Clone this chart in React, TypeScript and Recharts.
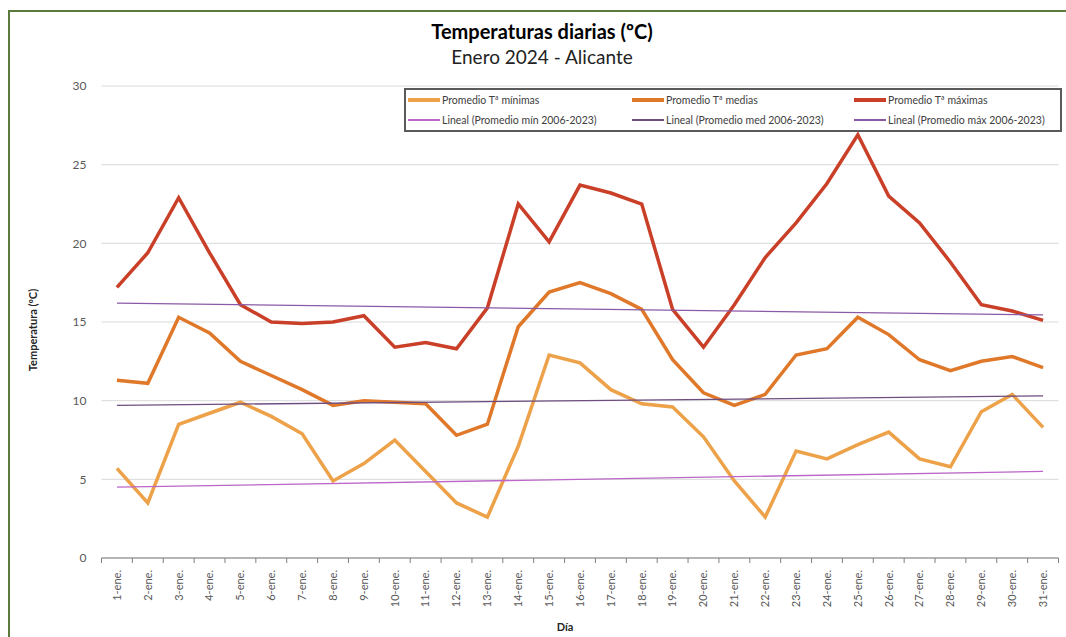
import { CartesianGrid, Label, Line, LineChart, XAxis, YAxis } from "recharts";

const DIAS = [
  "1-ene.", "2-ene.", "3-ene.", "4-ene.", "5-ene.", "6-ene.", "7-ene.", "8-ene.",
  "9-ene.", "10-ene.", "11-ene.", "12-ene.", "13-ene.", "14-ene.", "15-ene.", "16-ene.",
  "17-ene.", "18-ene.", "19-ene.", "20-ene.", "21-ene.", "22-ene.", "23-ene.", "24-ene.",
  "25-ene.", "26-ene.", "27-ene.", "28-ene.", "29-ene.", "30-ene.", "31-ene.",
];

const T_MIN = [5.7, 3.5, 8.5, 9.2, 9.9, 9.0, 7.9, 4.9, 6.0, 7.5, 5.5, 3.5, 2.6, 7.1, 12.9, 12.4, 10.7, 9.8, 9.6, 7.7, 4.9, 2.6, 6.8, 6.3, 7.2, 8.0, 6.3, 5.8, 9.3, 10.4, 8.3];
const T_MED = [11.3, 11.1, 15.3, 14.3, 12.5, 11.6, 10.7, 9.7, 10.0, 9.9, 9.8, 7.8, 8.5, 14.7, 16.9, 17.5, 16.8, 15.8, 12.6, 10.5, 9.7, 10.4, 12.9, 13.3, 15.3, 14.2, 12.6, 11.9, 12.5, 12.8, 12.1];
const T_MAX = [17.2, 19.4, 22.9, 19.4, 16.1, 15.0, 14.9, 15.0, 15.4, 13.4, 13.7, 13.3, 15.9, 22.5, 20.1, 23.7, 23.2, 22.5, 15.8, 13.4, 16.1, 19.1, 21.3, 23.8, 26.9, 23.0, 21.3, 18.8, 16.1, 15.7, 15.1];

// linear trends 2006-2023: [value on first day, value on last day]
const TREND_MIN = [4.5, 5.5];
const TREND_MED = [9.7, 10.3];
const TREND_MAX = [16.2, 15.45];

const Y_TICKS = [0, 5, 10, 15, 20, 25, 30];

const W = 1066;
const H = 637;
const M = { top: 86, right: 7.5, bottom: 0, left: 0 };
const Y_W = 101.5;
const X_H = 79;
const STEP = (W - M.left - M.right - Y_W) / DIAS.length;

const trendAt = (t: number[], i: number) => (i === 0 ? t[0] : i === DIAS.length - 1 ? t[1] : null);

const data = DIAS.map((d, i) => ({
  dia: d,
  min: T_MIN[i],
  med: T_MED[i],
  max: T_MAX[i],
  tMin: trendAt(TREND_MIN, i),
  tMed: trendAt(TREND_MED, i),
  tMax: trendAt(TREND_MAX, i),
}));

const SERIES = [
  { key: "min", name: "Promedio Tª mínimas", color: "#eda24a", width: 3.5 },
  { key: "med", name: "Promedio Tª medias", color: "#e0782a", width: 3.5 },
  { key: "max", name: "Promedio Tª máximas", color: "#c93f28", width: 3.5 },
  { key: "tMin", name: "Lineal (Promedio mín 2006-2023)", color: "#bb66c8", width: 1.3 },
  { key: "tMed", name: "Lineal (Promedio med 2006-2023)", color: "#6e4d80", width: 1.3 },
  { key: "tMax", name: "Lineal (Promedio máx 2006-2023)", color: "#8a5aa6", width: 1.3 },
];

const FONT = "Lato, 'Open Sans', sans-serif";
const AXIS_COLOR = "#7f7f7f";

function DayTick(props: any) {
  const { x, y, payload, index } = props;
  const last = index === DIAS.length - 1;
  return (
    <g>
      <line x1={x - STEP / 2} y1={y} x2={x - STEP / 2} y2={y + 5} stroke={AXIS_COLOR} />
      {last && <line x1={x + STEP / 2} y1={y} x2={x + STEP / 2} y2={y + 5} stroke={AXIS_COLOR} />}
      <text
        x={x}
        y={y + 12}
        dy="0.35em"
        transform={`rotate(-90, ${x}, ${y + 12})`}
        textAnchor="end"
        fontSize={11}
        fill="#595959"
        fontFamily={FONT}
      >
        {payload.value}
      </text>
    </g>
  );
}

function LegendBox() {
  return (
    <div
      style={{
        position: "absolute",
        left: 404,
        top: 88,
        width: 654,
        height: 40,
        border: "2px solid #5a5a5a",
        background: "#fff",
        display: "grid",
        gridTemplateColumns: "224px 222px 1fr",
        gridTemplateRows: "20px 20px",
        fontSize: 10.5,
        color: "#404040",
        fontFamily: FONT,
      }}
    >
      {SERIES.map((s) => (
        <div key={s.key} style={{ display: "flex", alignItems: "center", whiteSpace: "nowrap", paddingLeft: 2 }}>
          <span style={{ display: "inline-block", width: 32, height: s.width, background: s.color, marginRight: 2 }} />
          {s.name}
        </div>
      ))}
    </div>
  );
}

export default function App() {
  return (
    <div style={{ position: "fixed", left: 0, top: 0, width: W, height: H, background: "#fff", overflow: "hidden", fontFamily: FONT }}>
      <div style={{ position: "absolute", left: 8, top: 10, width: 1100, height: 700, border: "2px solid #5c7a3c" }} />
      <div style={{ position: "absolute", left: 0, top: 18, width: 1084, textAlign: "center", color: "#000" }}>
        <div style={{ fontSize: 20, fontWeight: 700, lineHeight: "26px" }}>Temperaturas diarias (ºC)</div>
        <div style={{ fontSize: 19, lineHeight: "26px", color: "#222" }}>Enero 2024 - Alicante</div>
      </div>
      <div style={{ position: "absolute", left: 0, top: 0 }}>
        <LineChart width={W} height={H} data={data} margin={M}>
          <CartesianGrid vertical={false} stroke="#d9d9d9" />
          <XAxis
            dataKey="dia"
            height={X_H}
            interval={0}
            padding={{ left: STEP / 2, right: STEP / 2 }}
            tickSize={0}
            tickMargin={0}
            tickLine={false}
            stroke={AXIS_COLOR}
            tick={<DayTick />}
          >
            <Label
              content={({ viewBox }: any) => (
                <text
                  x={viewBox.x + viewBox.width / 2 - 15}
                  y={viewBox.y + viewBox.height - 6}
                  textAnchor="middle"
                  fontSize={11}
                  fontWeight={700}
                  fill="#262626"
                  fontFamily={FONT}
                >
                  Día
                </text>
              )}
            />
          </XAxis>
          <YAxis
            width={Y_W}
            domain={[0, 30]}
            ticks={Y_TICKS}
            axisLine={false}
            tickLine={false}
            tickSize={0}
            tickMargin={15}
            tick={{ fontSize: 12, fill: "#595959", fontFamily: FONT }}
          >
            <Label
              content={({ viewBox }: any) => {
                const x = viewBox.x + 33;
                const y = viewBox.y + viewBox.height / 2 + 8;
                return (
                  <text
                    x={x}
                    y={y}
                    dy="0.35em"
                    transform={`rotate(-90, ${x}, ${y})`}
                    textAnchor="middle"
                    fontSize={11}
                    fontWeight={700}
                    fill="#262626"
                    fontFamily={FONT}
                  >
                    Temperatura (ºC)
                  </text>
                );
              }}
            />
          </YAxis>
          {SERIES.map((s) => (
            <Line
              key={s.key}
              dataKey={s.key}
              name={s.name}
              type="linear"
              stroke={s.color}
              strokeWidth={s.width}
              dot={false}
              activeDot={false}
              connectNulls
              isAnimationActive={false}
            />
          ))}
        </LineChart>
      </div>
      <LegendBox />
    </div>
  );
}
